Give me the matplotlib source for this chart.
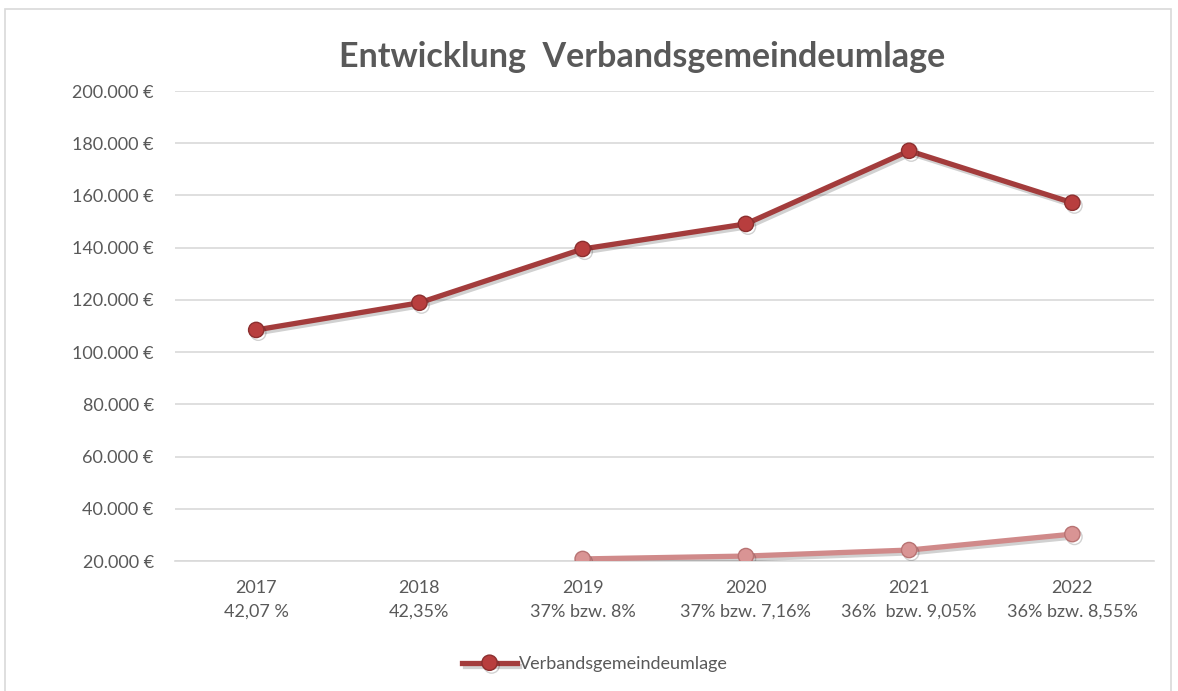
import matplotlib.pyplot as plt
import matplotlib.patheffects as pe
from matplotlib.patches import Rectangle
from matplotlib.ticker import FuncFormatter

# Daten
jahre = ['2017', '2018', '2019', '2020', '2021', '2022']
saetze = ['42,07 %', '42,35%', '37% bzw. 8%', '37% bzw. 7,16%', '36%  bzw. 9,05%', '36% bzw. 8,55%']
umlage = [108500, 118900, 139500, 149100, 177100, 157200]
umlage2_jahre = [2, 3, 4, 5]
umlage2 = [20800, 21900, 24200, 30300]

plt.rcParams['font.family'] = ['Lato', 'DejaVu Sans']
grau = '#595959'

fig = plt.figure(figsize=(11.78, 6.91), dpi=100)
ax = fig.add_axes([0.1482, 0.1881, 0.8314, 0.6802])

# Rahmen um das Diagramm
fig.patches.append(Rectangle((5 / 1178, -0.01), 1166 / 1178, 1 - 9 / 691 + 0.01,
                             transform=fig.transFigure, fill=False,
                             edgecolor='#d9d9d9', linewidth=1.2))

schatten = [pe.SimpleLineShadow(offset=(1.5, -2), shadow_color='#000000', alpha=0.18), pe.Normal()]

x = list(range(len(jahre)))
ax.plot(x, umlage, color='#a33c3c', linewidth=3.8, marker='o', markersize=11,
        markerfacecolor='#b83e3e', markeredgecolor='#8c2f2f', markeredgewidth=1,
        label='Verbandsgemeindeumlage', path_effects=schatten, zorder=3)
ax.plot(umlage2_jahre, umlage2, color='#d08a8a', linewidth=3.8, marker='o', markersize=11,
        markerfacecolor='#d99494', markeredgecolor='#b87373', markeredgewidth=1,
        path_effects=schatten, zorder=3)

ax.set_xlim(-0.5, 5.5)
ax.set_ylim(20000, 200000)
ax.set_yticks(range(20000, 200001, 20000))
ax.yaxis.set_major_formatter(FuncFormatter(lambda v, p: f'{int(v):,} €'.replace(',', '.')))
ax.set_xticks(x)
ax.set_xticklabels([f'{j}\n{s}' for j, s in zip(jahre, saetze)], linespacing=1.55)

ax.grid(axis='y', color='#d9d9d9', linewidth=1.2)
ax.set_axisbelow(True)
for s in ax.spines.values():
    s.set_visible(False)
ax.spines['bottom'].set_visible(True)
ax.spines['bottom'].set_color('#d9d9d9')
ax.spines['bottom'].set_linewidth(1.2)
ax.tick_params(axis='both', length=0, labelsize=13, colors=grau)
ax.tick_params(axis='x', pad=14)
ax.tick_params(axis='y', pad=15)

fig.text(0.545, 0.918, 'Entwicklung  Verbandsgemeindeumlage', ha='center', va='center',
         fontsize=24.5, fontweight='bold', color=grau)

fig.legend(loc='center', bbox_to_anchor=(0.505, 0.039), frameon=False, fontsize=13,
           labelcolor=grau, handlelength=3, handletextpad=0.1)

fig.savefig('out.png', dpi=100)
